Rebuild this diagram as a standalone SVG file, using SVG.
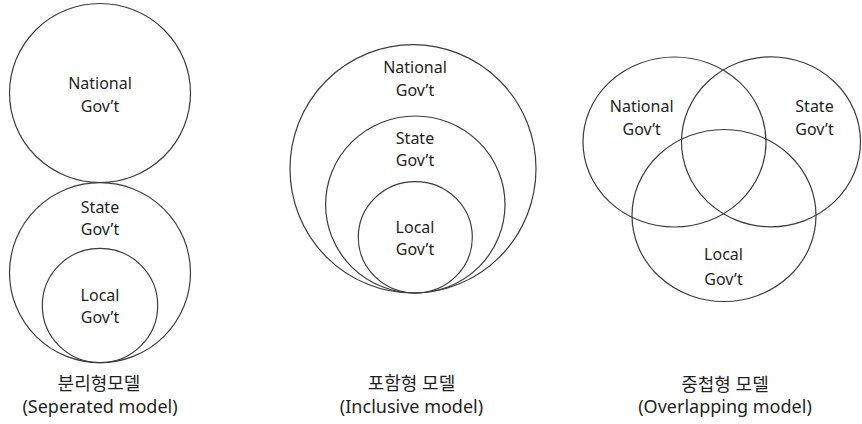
<svg xmlns="http://www.w3.org/2000/svg" width="862" height="424" viewBox="0 0 862 424">
<style>
.c{fill:none;stroke:#3c3c3c;stroke-width:1.2}
.l{font-family:"Noto Sans","Noto Sans CJK KR",sans-serif;font-size:16px;fill:#231f20;text-anchor:middle}
.cap{font-family:"Noto Sans","Noto Sans CJK KR",sans-serif;font-size:18px;fill:#231f20;text-anchor:middle}
</style>
<rect width="862" height="424" fill="#fff"/>
<g id="separated-model">
  <g id="sep-national">
    <ellipse class="c" cx="100" cy="93" rx="90.5" ry="89.5"/>
    <text class="l" x="100" y="89">National</text>
    <text class="l" x="100" y="111.5">Gov’t</text>
  </g>
  <g id="sep-state">
    <ellipse class="c" cx="100" cy="272.7" rx="90.5" ry="90"/>
    <text class="l" x="100" y="212.5">State</text>
    <text class="l" x="100" y="234.5">Gov’t</text>
  </g>
  <g id="sep-local">
    <ellipse class="c" cx="100" cy="305.5" rx="57.7" ry="57.2"/>
    <text class="l" x="100" y="301">Local</text>
    <text class="l" x="100" y="323">Gov’t</text>
  </g>
  <g id="sep-caption">
    <text class="cap" x="99" y="390">분리형모델</text>
    <text class="cap" x="100" y="413">(Seperated model)</text>
  </g>
</g>
<g id="inclusive-model">
  <g id="inc-national">
    <ellipse class="c" cx="413" cy="168.8" rx="123" ry="124.2"/>
    <text class="l" x="415" y="72.7">National</text>
    <text class="l" x="415" y="95.7">Gov’t</text>
  </g>
  <g id="inc-state">
    <ellipse class="c" cx="415.3" cy="204.5" rx="89.7" ry="88.5"/>
    <text class="l" x="415" y="144">State</text>
    <text class="l" x="415" y="165.5">Gov’t</text>
  </g>
  <g id="inc-local">
    <ellipse class="c" cx="415.3" cy="237.3" rx="57" ry="55.7"/>
    <text class="l" x="415" y="233.3">Local</text>
    <text class="l" x="415" y="254.5">Gov’t</text>
  </g>
  <g id="inc-caption">
    <text class="cap" x="411.5" y="390">포함형 모델</text>
    <text class="cap" x="411.5" y="413">(Inclusive model)</text>
  </g>
</g>
<g id="overlapping-model">
  <g id="ovl-national">
    <ellipse class="c" cx="674.5" cy="142" rx="91.5" ry="85"/>
    <text class="l" x="641.7" y="111.5">National</text>
    <text class="l" x="641.7" y="135">Gov’t</text>
  </g>
  <g id="ovl-state">
    <ellipse class="c" cx="771" cy="141.8" rx="89.5" ry="85"/>
    <text class="l" x="814.5" y="111.5">State</text>
    <text class="l" x="814.5" y="135">Gov’t</text>
  </g>
  <g id="ovl-local">
    <ellipse class="c" cx="724" cy="215.5" rx="92" ry="86"/>
    <text class="l" x="723.5" y="260">Local</text>
    <text class="l" x="723.5" y="285">Gov’t</text>
  </g>
  <g id="ovl-caption">
    <text class="cap" x="725" y="391">중첩형 모델</text>
    <text class="cap" x="725" y="413">(Overlapping model)</text>
  </g>
</g>
<g id="connectors"/>
</svg>
